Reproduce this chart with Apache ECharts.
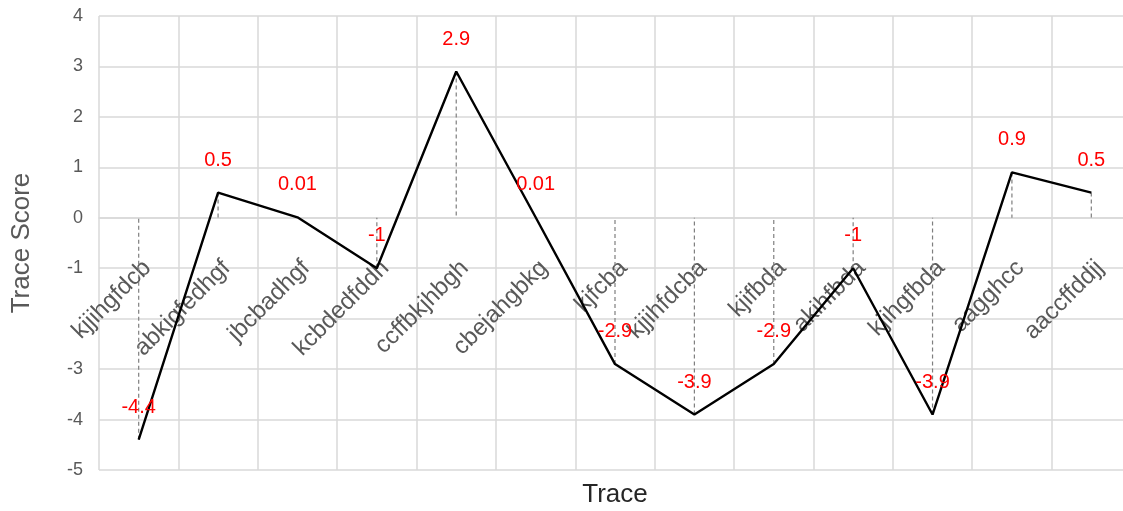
<!DOCTYPE html>
<html>
<head>
<meta charset="utf-8">
<title>Trace Score</title>
<script src="https://cdn.jsdelivr.net/npm/echarts@6/dist/echarts.min.js"></script>
<style>
  html, body { margin: 0; padding: 0; background: #ffffff; }
  #chart { width: 1123px; height: 511px; }
</style>
</head>
<body>
<div id="chart"></div>
<script>
// Trace names along the category axis
const traces = [
  'kjjihgfdcb', 'abkigfedhgf', 'jbcbadhgf', 'kcbdedfddh', 'ccffbkjhbgh',
  'cbejahgbkg', 'kjfcba', 'kjjihfdcba', 'kjifbda', 'akihfbda',
  'kjihgfbda', 'aagghcc', 'aaccffddjj'
];
// Score of each trace
const scores = [-4.4, 0.5, 0.01, -1, 2.9, 0.01, -2.9, -3.9, -2.9, -1, -3.9, 0.9, 0.5];
// Value axis range and step
const yMin = -5;
const yMax = 4;
const yStep = 1;
// Value-axis ticks whose label is left out (the first trace name runs over it)
const yHiddenTicks = [-2];

const FONT = 'Liberation Sans';
const GREY_TEXT = '#595959';
const GRID_LINE = '#d9d9d9';

// plot box in pixels
const PLOT_TOP = 16;
const PLOT_BOTTOM = 41;
const PLOT_H = 511 - PLOT_TOP - PLOT_BOTTOM;
// lift the category axis from the bottom edge up to the zero line
const zeroLift = PLOT_H * (0 - yMin) / (yMax - yMin);

const chart = echarts.init(document.getElementById('chart'), null, { renderer: 'canvas' });

chart.setOption({
  animation: false,
  backgroundColor: '#ffffff',
  grid: { left: 99, right: -8, top: PLOT_TOP, bottom: PLOT_BOTTOM, containLabel: false, outerBoundsMode: 'none' },
  xAxis: {
    type: 'category',
    data: traces,
    boundaryGap: true,
    offset: -zeroLift,
    name: 'Trace',
    nameLocation: 'middle',
    nameGap: 264,
    nameTextStyle: { fontFamily: FONT, fontSize: 26, color: '#262626' },
    axisLine: { show: true, onZero: false, lineStyle: { color: GRID_LINE, width: 1.5 } },
    axisTick: { show: false },
    axisLabel: {
      interval: 0,
      rotate: 45,
      margin: 38,
      verticalAlign: 'top',
      fontFamily: FONT,
      fontSize: 24,
      color: GREY_TEXT
    },
    splitLine: { show: true, interval: 0, lineStyle: { color: GRID_LINE, width: 1.5 } }
  },
  yAxis: {
    type: 'value',
    min: yMin,
    max: yMax,
    interval: yStep,
    name: 'Trace Score',
    nameLocation: 'middle',
    nameGap: 64,
    nameTextStyle: { fontFamily: FONT, fontSize: 26, color: GREY_TEXT },
    axisLine: { show: false },
    axisTick: { show: false },
    axisLabel: {
      margin: 16,
      fontFamily: FONT,
      fontSize: 18,
      color: GREY_TEXT,
      formatter: function (v) { return yHiddenTicks.indexOf(v) >= 0 ? '' : String(v); }
    },
    splitLine: { show: true, lineStyle: { color: GRID_LINE, width: 1.5 } }
  },
  series: [
    {
      // dashed drop lines from each point to the zero line
      type: 'custom',
      z: 1,
      silent: true,
      data: scores.map((v, i) => [i, v]),
      renderItem: function (params, api) {
        const top = api.coord([api.value(0), api.value(1)]);
        const base = api.coord([api.value(0), 0]);
        return {
          type: 'line',
          shape: { x1: top[0], y1: top[1], x2: base[0], y2: base[1] },
          style: { stroke: '#7f7f7f', lineWidth: 1.2, lineDash: [4, 3] }
        };
      }
    },
    {
      type: 'line',
      z: 3,
      data: scores,
      symbol: 'circle',
      symbolSize: 1,
      showSymbol: true,
      itemStyle: { color: 'rgba(0,0,0,0)' },
      lineStyle: { color: '#000000', width: 2.4 },
      label: {
        show: true,
        position: 'top',
        distance: 22,
        fontFamily: FONT,
        fontSize: 20,
        color: '#ff0000',
        formatter: function (p) { return String(p.value); }
      }
    }
  ]
});
</script>
</body>
</html>
